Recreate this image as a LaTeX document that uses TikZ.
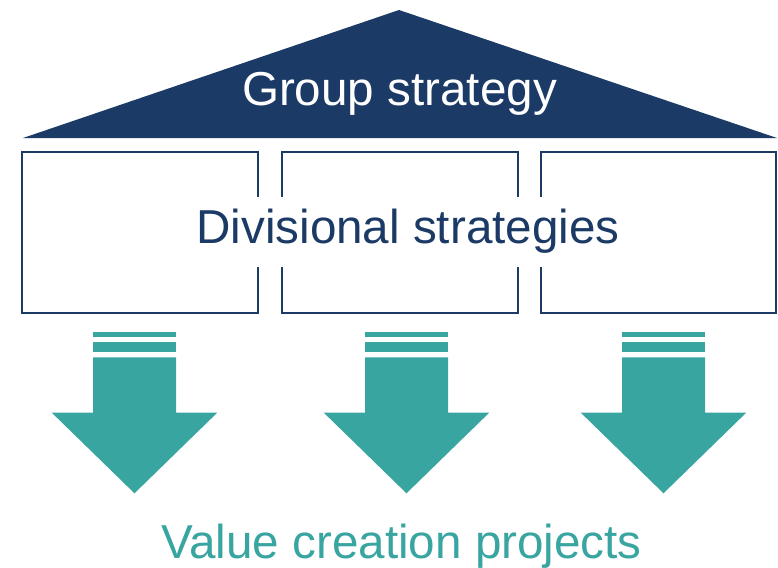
\documentclass[tikz,border=0pt]{standalone}
\usepackage{fontspec}
\setmainfont{Liberation Sans}
\definecolor{navy}{HTML}{1B3A65}
\definecolor{teal}{HTML}{38A5A1}
\begin{document}
\begin{tikzpicture}[x=1pt,y=-1pt,
  bigtext/.style={font=\fontsize{47.6}{57}\selectfont, inner sep=0pt},
  divbox/.style={draw=navy, line width=2pt},
  arrowfill/.style={fill=teal, draw=none}]
\useasboundingbox (0,0) rectangle (778,567);

% roof
\fill[navy] (399,10) -- (777,138) -- (23,138) -- cycle;
\node[bigtext, text=white, anchor=base] (group) at (399.5,106) {Group strategy};

% division boxes
\draw[divbox] (22,152) rectangle (258,313);
\draw[divbox] (282,152) rectangle (517.5,313);
\draw[divbox] (541,152) rectangle (776.3,313);
\node[bigtext, text=navy, fill=white, anchor=base, text height=46pt, text depth=24pt,
      inner xsep=4pt] (div) at (408,243) {Divisional strategies};

% striped down arrows
\foreach \c in {134.5,406.5,663.5} {
  \fill[arrowfill] (\c-41.5,332) rectangle (\c+41.5,336.7);
  \fill[arrowfill] (\c-41.5,342) rectangle (\c+41.5,352.3);
  \fill[arrowfill] (\c-41.5,357.3) -- (\c+41.5,357.3) -- (\c+41.5,412.7)
     -- (\c+82.7,412.7) -- (\c,493.3) -- (\c-82.7,412.7) -- (\c-41.5,412.7) -- cycle;
}

\node[bigtext, text=teal, anchor=base] (value) at (401.5,558) {Value creation projects};
\end{tikzpicture}
\end{document}
